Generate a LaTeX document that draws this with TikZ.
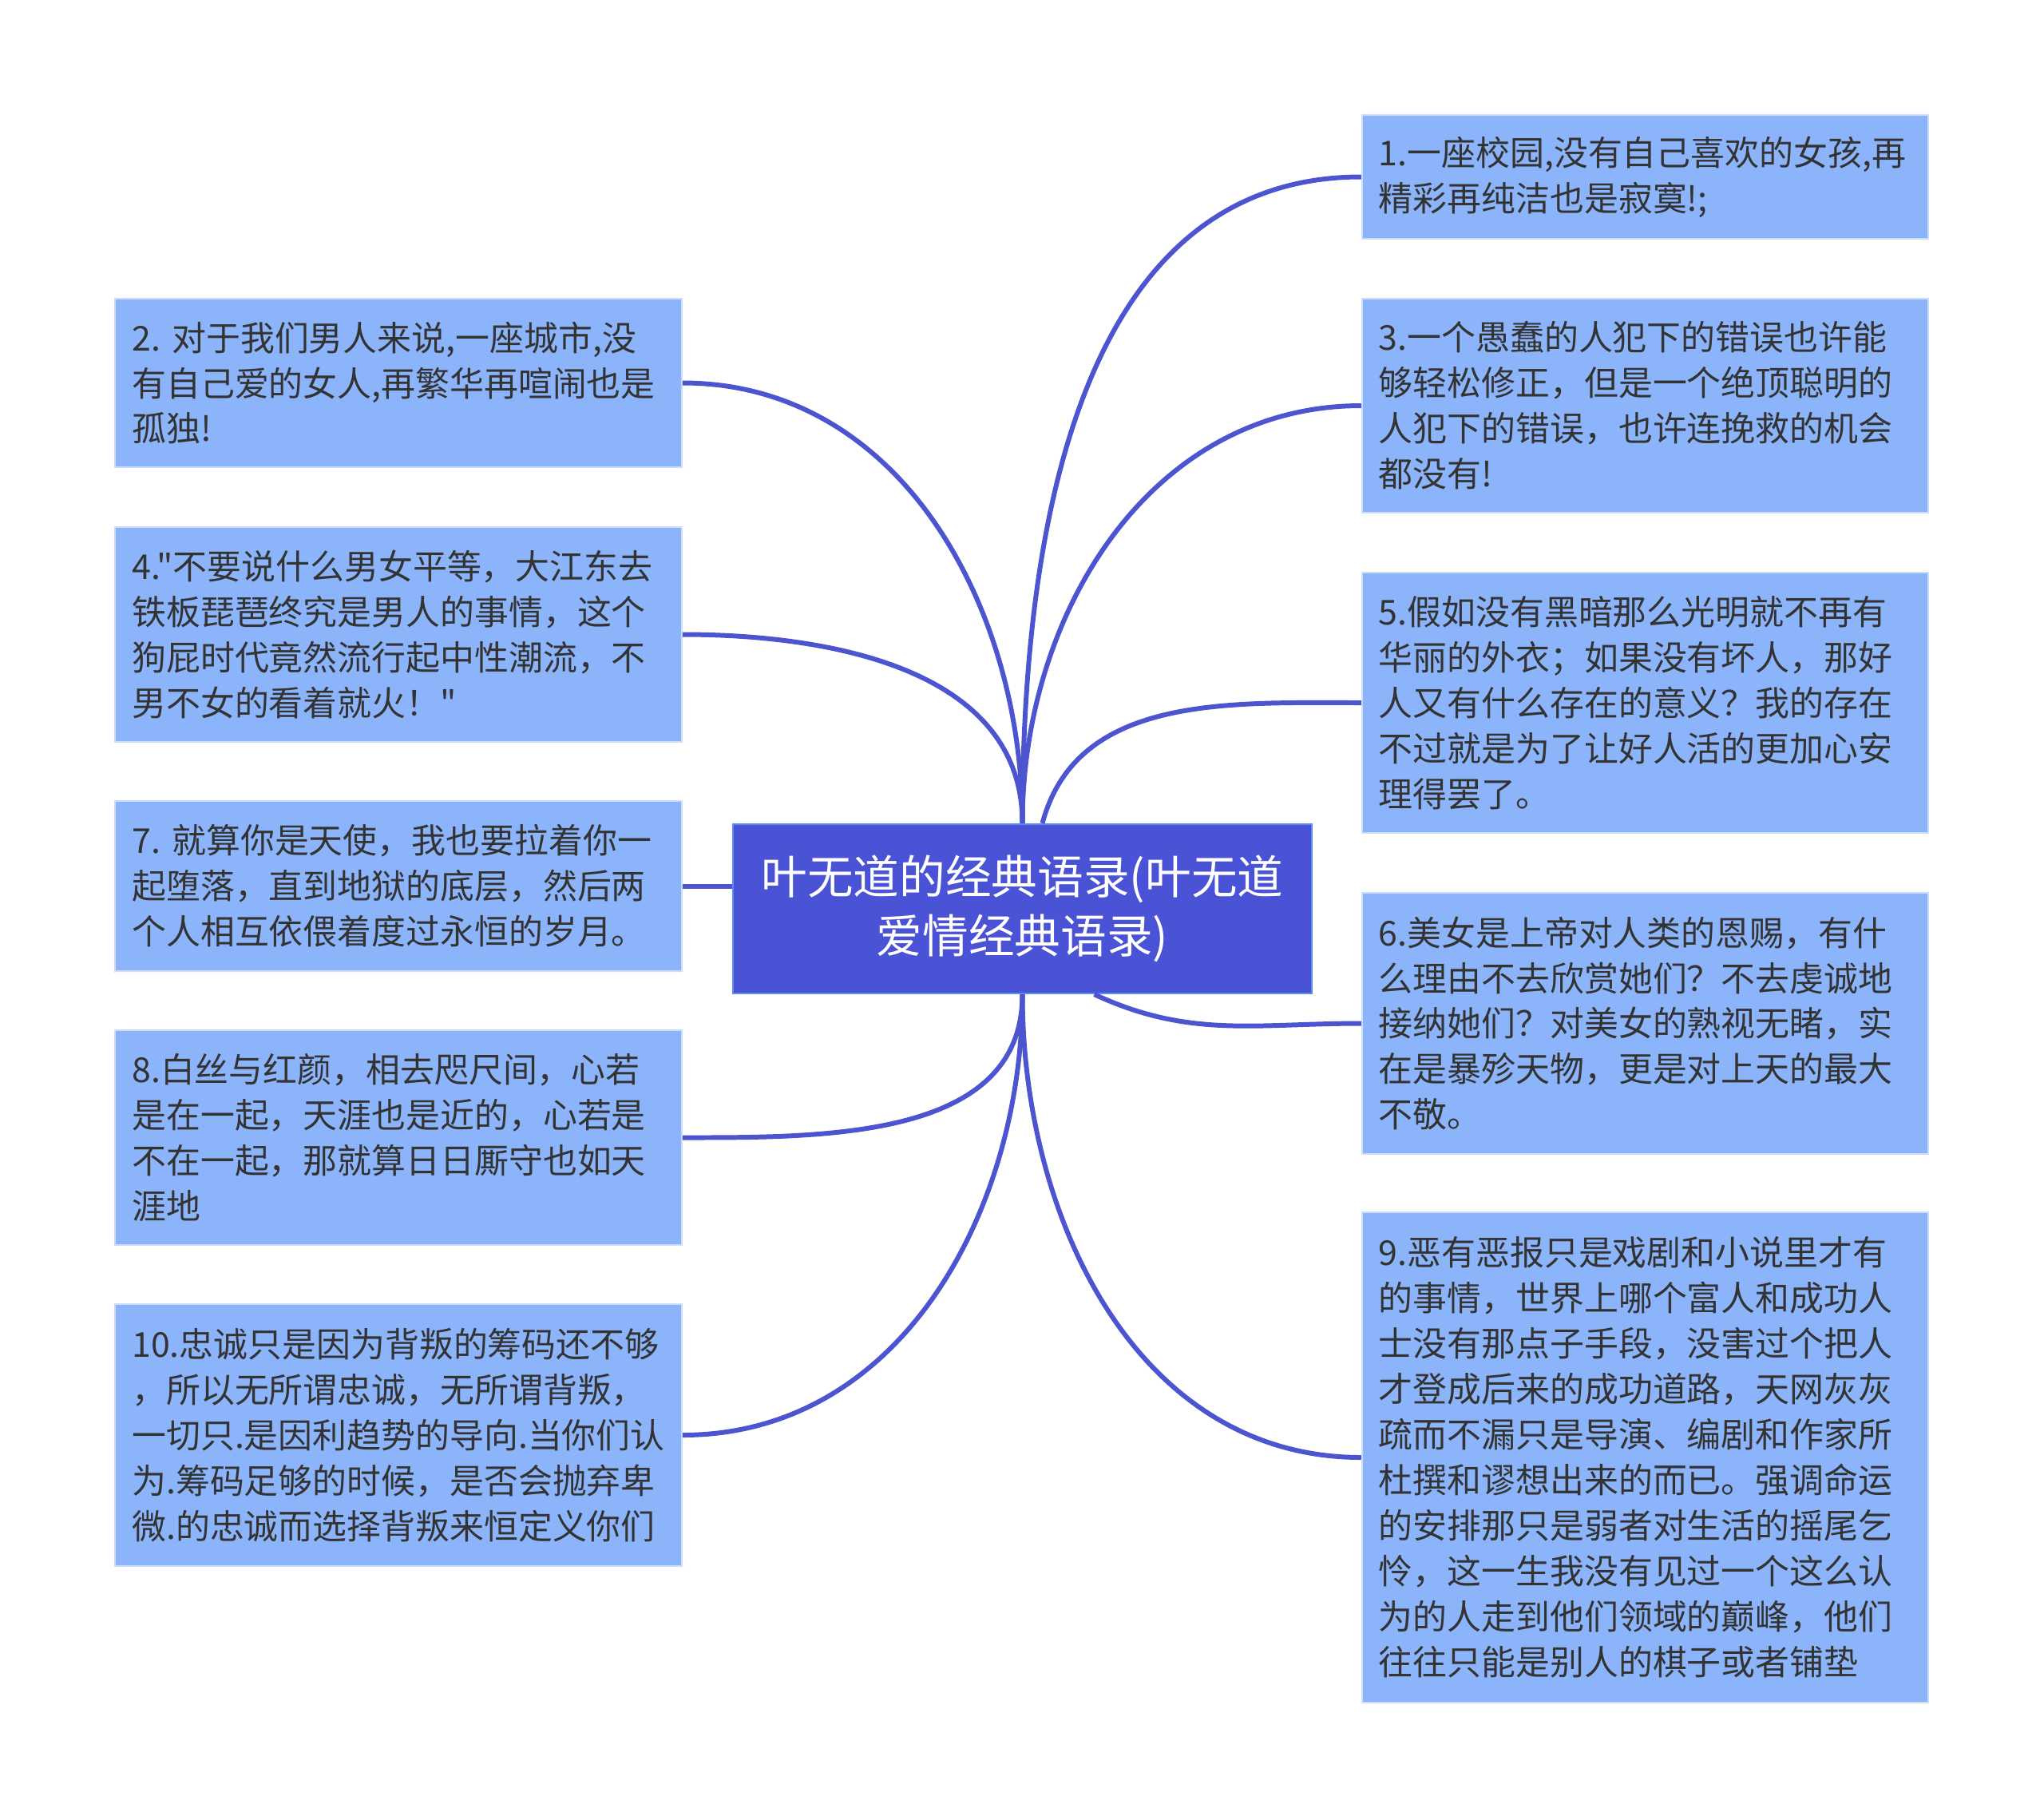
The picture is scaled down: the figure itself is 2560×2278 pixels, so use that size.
\documentclass[tikz,border=0pt]{standalone}
\usepackage{fontspec}
\setmainfont{Noto Sans CJK SC}[Ligatures=TeXOff]
\usepackage{tikz}
\usetikzlibrary{positioning}
\definecolor{rootblue}{RGB}{74,82,214}
\definecolor{rootedge}{RGB}{90,140,240}
\definecolor{leafblue}{RGB}{139,180,250}
\definecolor{leafedge}{RGB}{205,220,248}
\definecolor{linkblue}{RGB}{76,84,208}
\definecolor{textgray}{RGB}{51,51,51}
\tikzset{
    % 中心主题
    rootbox/.style={
        draw=rootedge,
        line width=0.6pt,
        fill=rootblue,
        text=white,
        align=center,
        inner sep=0pt,
        minimum width=7.25cm,
        minimum height=2.12cm,
        font=\fontsize{16.4}{21}\selectfont
    },
    % 语录方框
    quotebox/.style={
        draw=leafedge,
        line width=0.6pt,
        fill=leafblue,
        text=textgray,
        align=left,
        text width=6.67cm,
        inner xsep=0.21cm,
        inner ysep=0pt,
        minimum width=7.09cm,
        font=\fontsize{12.2}{16.2}\selectfont
    },
    % 连线
    branchline/.style={
        line width=1.7pt,
        linkblue
    }
}

\begin{document}
\begin{tikzpicture}[x=0.01cm,y=-0.01cm]
    \useasboundingbox (0,0) rectangle (2560,2278);

    % 中心节点
    \node[rootbox] (c) at (1280.5,1138) {叶无道的经典语录(叶无道\\爱情经典语录)};

    % 右侧语录
    \node[quotebox,minimum height=1.55cm] (b1) at (2060.5,221.5)
        {1.一座校园,没有自己喜欢的女孩,再\\精彩再纯洁也是寂寞!;};
    \node[quotebox,minimum height=2.68cm] (b3) at (2060.5,508)
        {3.一个愚蠢的人犯下的错误也许能\\够轻松修正，但是一个绝顶聪明的\\人犯下的错误，也许连挽救的机会\\都没有!};
    \node[quotebox,minimum height=3.26cm] (b5) at (2060.5,880)
        {5.假如没有黑暗那么光明就不再有\\华丽的外衣；如果没有坏人，那好\\人又有什么存在的意义？我的存在\\不过就是为了让好人活的更加心安\\理得罢了。};
    \node[quotebox,minimum height=3.27cm] (b6) at (2060.5,1281.5)
        {6.美女是上帝对人类的恩赐，有什\\么理由不去欣赏她们？不去虔诚地\\接纳她们？对美女的熟视无睹，实\\在是暴殄天物，更是对上天的最大\\不敬。};
    \node[quotebox,minimum height=6.14cm] (b9) at (2060.5,1825)
        {9.恶有恶报只是戏剧和小说里才有\\的事情，世界上哪个富人和成功人\\士没有那点子手段，没害过个把人\\才登成后来的成功道路，天网灰灰\\疏而不漏只是导演、编剧和作家所\\杜撰和谬想出来的而已。强调命运\\的安排那只是弱者对生活的摇尾乞\\怜，这一生我没有见过一个这么认\\为的人走到他们领域的巅峰，他们\\往往只能是别人的棋子或者铺垫};

    % 左侧语录
    \node[quotebox,minimum height=2.11cm] (b2) at (499,479.5)
        {2.~对于我们男人来说,一座城市,没\\有自己爱的女人,再繁华再喧闹也是\\孤独!};
    \node[quotebox,minimum height=2.69cm] (b4) at (499,794.5)
        {4."不要说什么男女平等，大江东去\\铁板琵琶终究是男人的事情，这个\\狗屁时代竟然流行起中性潮流，不\\男不女的看着就火！"};
    \node[quotebox,minimum height=2.13cm] (b7) at (499,1109.5)
        {7.~就算你是天使，我也要拉着你一\\起堕落，直到地狱的底层，然后两\\个人相互依偎着度过永恒的岁月。};
    \node[quotebox,minimum height=2.69cm] (b8) at (499,1424.5)
        {8.白丝与红颜，相去咫尺间，心若\\是在一起，天涯也是近的，心若是\\不在一起，那就算日日厮守也如天\\涯地};
    \node[quotebox,minimum height=3.28cm] (b10) at (499,1797)
        {10.忠诚只是因为背叛的筹码还不够\\，所以无所谓忠诚，无所谓背叛，\\一切只.是因利趋势的导向.当你们认\\为.筹码足够的时候，是否会抛弃卑\\微.的忠诚而选择背叛来恒定义你们};

    % 连线
    \draw[branchline] (c.north) to[out=90,in=180] (b1.west);
    \draw[branchline] (c.north) to[out=90,in=180] (b3.west);
    \draw[branchline] ([xshift=0.25cm]c.north) to[out=75,in=180] (b5.west);
    \draw[branchline] ([xshift=0.9cm]c.south) to[out=-25,in=180] (b6.west);
    \draw[branchline] (c.south) to[out=-90,in=180] (b9.west);
    \draw[branchline] (c.north) to[out=90,in=0] (b2.east);
    \draw[branchline] (c.north) to[out=90,in=0] (b4.east);
    \draw[branchline] (b7.east) -- (b7.east -| c.west);
    \draw[branchline] (c.south) to[out=-90,in=0] (b8.east);
    \draw[branchline] (c.south) to[out=-90,in=0] (b10.east);

\end{tikzpicture}
\end{document}
